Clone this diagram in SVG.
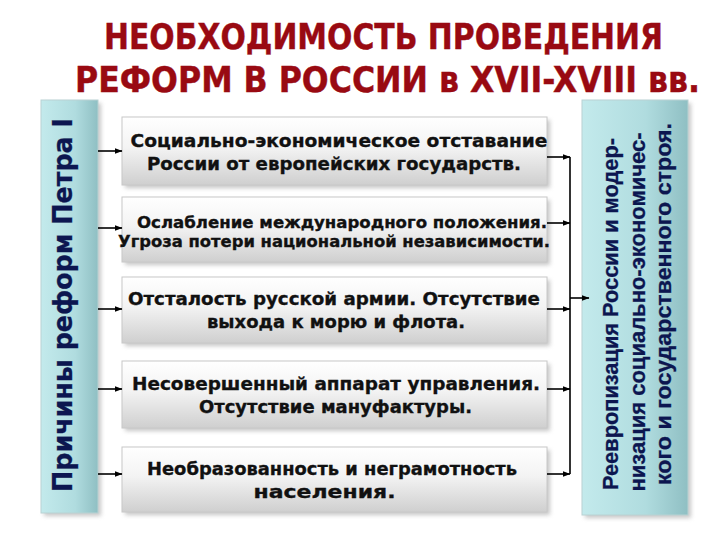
<svg xmlns="http://www.w3.org/2000/svg" width="720" height="540" viewBox="0 0 720 540">
<style>
.title{font-family:"DejaVu Sans","Liberation Sans",sans-serif;font-weight:bold;font-size:25px;fill:#990a12;stroke:#990a12;stroke-width:0.3}
.bt{font-family:"DejaVu Sans","Liberation Sans",sans-serif;font-weight:bold;font-size:18.5px;fill:#111;stroke:#111;stroke-width:0.35;text-anchor:middle}
.bt2{font-size:16.5px}
.side{font-family:"DejaVu Sans","Liberation Sans",sans-serif;font-weight:bold;font-size:26px;fill:#0c1650;stroke:#0c1650;stroke-width:0.3;text-anchor:middle}
.rside{font-family:"Liberation Sans",Arial,sans-serif;font-weight:bold;font-size:22px;fill:#0c1650;stroke:#0c1650;stroke-width:0.3;text-anchor:middle}
.box{fill:url(#gbox);stroke:#c8c8c8;stroke-width:1}
.shadow{fill:#9a9a9a;opacity:0.55;filter:url(#blur)}
.bar{fill:url(#gbar);stroke:#b9d2d3;stroke-width:1}
.conn{stroke:#000;stroke-width:1.6;fill:none}
.arr{marker-end:url(#ah)}
</style>
<defs>
<linearGradient id="gbox" x1="0" y1="0" x2="0" y2="1">
<stop offset="0" stop-color="#ffffff"/>
<stop offset="0.45" stop-color="#f3f3f3"/>
<stop offset="1" stop-color="#cfcfcf"/>
</linearGradient>
<linearGradient id="gbar" x1="0" y1="0" x2="1" y2="0">
<stop offset="0" stop-color="#c3eaec"/>
<stop offset="0.6" stop-color="#b0dcdf"/>
<stop offset="1" stop-color="#8fbfc3"/>
</linearGradient>
<filter id="blur" x="-10%" y="-10%" width="120%" height="130%">
<feGaussianBlur stdDeviation="2"/>
</filter>
<marker id="ah" markerWidth="8" markerHeight="7" refX="7.5" refY="3.5" orient="auto" markerUnits="userSpaceOnUse">
<path d="M0,0.5 L8,3.5 L0,6.5 z" fill="#000"/>
</marker>
</defs>
<rect width="720" height="540" fill="#ffffff"/>

<g id="title">
<text class="title" transform="translate(104,49) scale(1,1.45)" x="0" y="0" textLength="559" lengthAdjust="spacingAndGlyphs">НЕОБХОДИМОСТЬ ПРОВЕДЕНИЯ</text>
<text class="title" transform="translate(75,92) scale(1,1.45)" x="0" y="0" textLength="625" lengthAdjust="spacingAndGlyphs">РЕФОРМ В РОССИИ в XVII-XVIII вв.</text>
</g>

<g id="left-bar">
<rect class="shadow" x="44" y="103" width="57" height="413"/>
<rect class="bar" x="41" y="100" width="57" height="413"/>
<text class="side" transform="translate(72,305) rotate(-90)" textLength="374" lengthAdjust="spacingAndGlyphs">Причины реформ Петра I</text>
</g>

<g id="right-bar">
<rect class="shadow" x="585" y="103" width="106" height="415"/>
<rect class="bar" x="582" y="100" width="106" height="415"/>
<text class="rside" transform="translate(618,314) rotate(-90)" textLength="352" lengthAdjust="spacingAndGlyphs">Реевропизация России и модер-</text>
<text class="rside" transform="translate(645,312) rotate(-90)" textLength="359" lengthAdjust="spacingAndGlyphs">низация социально-экономичес-</text>
<text class="rside" transform="translate(671,304) rotate(-90)" textLength="362" lengthAdjust="spacingAndGlyphs">кого и государственного строя.</text>
</g>

<g id="box1">
<rect class="shadow" x="125" y="120" width="425" height="68"/>
<rect class="box" x="122" y="117" width="425" height="68"/>
<text class="bt" x="339" y="147" textLength="417" lengthAdjust="spacingAndGlyphs">Социально-экономическое отставание</text>
<text class="bt" x="334" y="170" textLength="374" lengthAdjust="spacingAndGlyphs">России от европейских государств.</text>
</g>

<g id="box2">
<rect class="shadow" x="125" y="200" width="425" height="65"/>
<rect class="box" x="122" y="197" width="425" height="65"/>
<text class="bt bt2" x="342" y="228" textLength="410" lengthAdjust="spacingAndGlyphs">Ослабление международного положения.</text>
<text class="bt bt2" x="334" y="247" textLength="432" lengthAdjust="spacingAndGlyphs">Угроза потери национальной независимости.</text>
</g>

<g id="box3">
<rect class="shadow" x="125" y="280" width="425" height="66"/>
<rect class="box" x="122" y="277" width="425" height="66"/>
<text class="bt" x="334" y="305" textLength="412" lengthAdjust="spacingAndGlyphs">Отсталость русской армии. Отсутствие</text>
<text class="bt" x="336" y="328" textLength="258" lengthAdjust="spacingAndGlyphs">выхода к морю и флота.</text>
</g>

<g id="box4">
<rect class="shadow" x="125" y="364" width="425" height="67"/>
<rect class="box" x="122" y="361" width="425" height="67"/>
<text class="bt" x="336" y="390" textLength="408" lengthAdjust="spacingAndGlyphs">Несовершенный аппарат управления.</text>
<text class="bt" x="335.5" y="413" textLength="273" lengthAdjust="spacingAndGlyphs">Отсутствие мануфактуры.</text>
</g>

<g id="box5">
<rect class="shadow" x="125" y="450" width="425" height="65"/>
<rect class="box" x="122" y="447" width="425" height="65"/>
<text class="bt" x="332" y="475" textLength="370" lengthAdjust="spacingAndGlyphs">Необразованность и неграмотность</text>
<text class="bt" x="324.5" y="498" textLength="142" lengthAdjust="spacingAndGlyphs">населения.</text>
</g>

<g id="connectors">
<line class="conn arr" x1="98" y1="151" x2="122" y2="151"/>
<line class="conn arr" x1="98" y1="228" x2="122" y2="228"/>
<line class="conn arr" x1="98" y1="309" x2="122" y2="309"/>
<line class="conn arr" x1="98" y1="389" x2="122" y2="389"/>
<line class="conn arr" x1="98" y1="474" x2="122" y2="474"/>
<line class="conn arr" x1="547" y1="157" x2="570" y2="157"/>
<line class="conn arr" x1="547" y1="223" x2="570" y2="223"/>
<line class="conn arr" x1="547" y1="309" x2="570" y2="309"/>
<line class="conn arr" x1="547" y1="389" x2="570" y2="389"/>
<line class="conn arr" x1="547" y1="474" x2="570" y2="474"/>
<line class="conn" x1="570" y1="157" x2="570" y2="474"/>
<line class="conn arr" x1="570" y1="298" x2="589" y2="298"/>
</g>
</svg>
